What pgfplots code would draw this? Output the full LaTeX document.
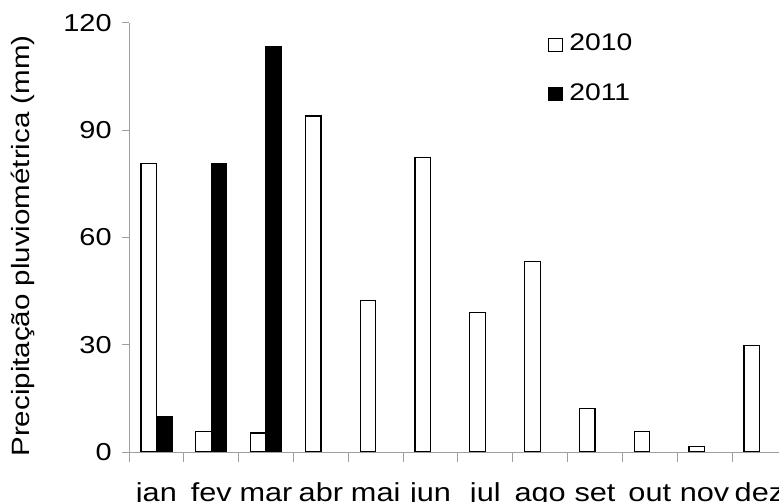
\documentclass[border=0pt]{standalone}
\usepackage{pgfplots}
\pgfplotsset{compat=1.18}
\usepackage{fontspec}
\setmainfont[FakeStretch=1.18]{Liberation Sans}
\begin{document}
\fontsize{24.5}{29}\selectfont
\begin{tikzpicture}
\path[use as bounding box] (-129pt,-50pt) rectangle (650pt,452pt);
\begin{axis}[
  at={(0pt,0pt)}, anchor=south west,
  scale only axis, width=650pt, height=429.3pt,
  xmin=-0.5, xmax=11.357, ymin=0, ymax=120,
  axis lines*=left,
  axis line style={draw=gray!75, line width=0.9pt},
  ytick={0,30,60,90,120},
  xtick={0,...,11},
  xticklabels={jan,fev,mar,abr,mai,jun,jul,ago,set,out,nov,dez},
  minor xtick={-0.5,0.5,...,10.5},
  tick align=outside,
  major tick length=7pt,
  minor tick length=10pt,
  tick style={draw=gray!75, line width=0.9pt},
  major x tick style={draw=none},
  /pgf/number format/assume math mode=true,
  yticklabel style={font=\fontsize{24.5}{29}\selectfont, xshift=-2pt},
  xticklabel style={font=\fontsize{26}{31}\selectfont, anchor=base, yshift=-42.5pt},
  ylabel={Precipitação pluviométrica (mm)},
  ylabel style={at={(axis description cs:-0.1638,0.48)}, anchor=center, font=\fontsize{25}{30}\selectfont},
  legend style={draw=none, fill=none, at={(rel axis cs:0.644,0.976)}, anchor=north west,
    font=\fontsize{24}{29}\selectfont, row sep=27pt, inner sep=0pt,
    nodes={inner sep=1pt}},
  legend cell align=left,
  legend image code/.code={\draw[#1,line width=0.8pt] (0pt,-6.5pt) rectangle (14.5pt,6pt); \path (19.5pt,0pt);},
]
\addplot[ybar, bar width=0.283, bar shift=-0.1415, fill=white, draw=black, line width=1.3pt]
  coordinates {(0,80.7) (1,5.8) (2,5.3) (3,93.9) (4,42.3) (5,82.4) (6,39.0) (7,53.2) (8,12.2) (9,5.7) (10,1.5) (11,29.8)};
\addplot[ybar, bar width=0.283, bar shift=0.1415, fill=black, draw=black, line width=1.3pt]
  coordinates {(0,9.9) (1,80.7) (2,113.3)};
\legend{2010,2011}
\end{axis}
\end{tikzpicture}
\end{document}
